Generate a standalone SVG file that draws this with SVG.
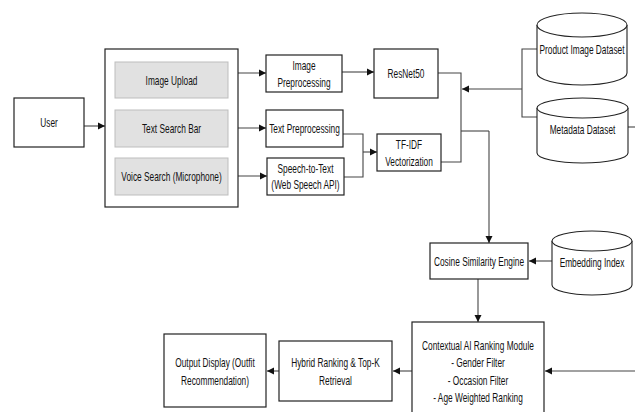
<svg xmlns="http://www.w3.org/2000/svg" width="635" height="412" viewBox="0 0 635 412">
<defs>
<marker id="ah" markerWidth="8" markerHeight="8" refX="7" refY="4" orient="auto" markerUnits="userSpaceOnUse">
<path d="M0,0.5 L7,4 L0,7.5 Z" fill="#111"/>
</marker>
<style>
.box{fill:#fff;stroke:#222;stroke-width:1.2}
.gbox{fill:#e1e1e1;stroke:#bdbdbd;stroke-width:1}
.cyl{fill:#fff;stroke:#222;stroke-width:1.1}
.t{font-family:"Liberation Sans",Arial,sans-serif;font-size:13px;fill:#111;text-anchor:middle;dominant-baseline:central}
.c{fill:none;stroke:#444;stroke-width:1.1}
.ca{fill:none;stroke:#444;stroke-width:1.1;marker-end:url(#ah)}
</style>
</defs>
<rect width="635" height="412" fill="#fff"/>
<g id="connectors">
<path class="ca" d="M84,126 H105"/>
<path class="ca" d="M228,73 H266"/>
<path class="ca" d="M228,128 H266"/>
<path class="ca" d="M228,176 H267"/>
<path class="ca" d="M342,72 H374"/>
<path class="c" d="M343,134 H363 V177 H344"/>
<path class="ca" d="M363,152 H377"/>
<path class="c" d="M438,73 H461 V162 H441"/>
<path class="c" d="M537,49 H522 V117 H537"/>
<path class="ca" d="M522,89 H462"/>
<path class="c" d="M461,131 H489"/>
<path class="ca" d="M489,131 V243"/>
<path class="c" d="M628,127 H635"/>
<path class="ca" d="M552,261 H529"/>
<path class="ca" d="M478,279 V322"/>
<path class="ca" d="M635,371 H545"/>
<path class="ca" d="M412,371 H393"/>
<path class="ca" d="M279,371 H267"/>
</g>
<g id="user"><rect class="box" x="14" y="98" width="70" height="49"/><text class="t" transform="translate(49,122) scale(0.64,1)">User</text></g>
<g id="input-panel"><rect class="box" x="105" y="49" width="133" height="158"/></g>
<g id="image-upload"><rect class="gbox" x="115" y="62" width="113" height="36"/><text class="t" transform="translate(171.5,80) scale(0.64,1)">Image Upload</text></g>
<g id="text-search"><rect class="gbox" x="115" y="110" width="113" height="37"/><text class="t" transform="translate(171.5,128) scale(0.64,1)">Text Search Bar</text></g>
<g id="voice-search"><rect class="gbox" x="115" y="158" width="113" height="37"/><text class="t" transform="translate(171.5,176) scale(0.64,1)">Voice Search (Microphone)</text></g>
<g id="image-preprocessing"><rect class="box" x="266" y="55" width="76" height="37"/><text class="t" transform="translate(304,65) scale(0.64,1)">Image</text><text class="t" transform="translate(304,82) scale(0.64,1)">Preprocessing</text></g>
<g id="resnet50"><rect class="box" x="374" y="49" width="64" height="49"/><text class="t" transform="translate(406,73) scale(0.64,1)">ResNet50</text></g>
<g id="text-preprocessing"><rect class="box" x="266" y="110" width="77" height="37"/><text class="t" transform="translate(304.5,128) scale(0.64,1)">Text Preprocessing</text></g>
<g id="speech-to-text"><rect class="box" x="267" y="158" width="77" height="37"/><text class="t" transform="translate(305.5,168) scale(0.64,1)">Speech-to-Text</text><text class="t" transform="translate(305.5,184) scale(0.64,1)">(Web Speech API)</text></g>
<g id="tfidf"><rect class="box" x="377" y="134" width="64" height="37"/><text class="t" transform="translate(409,144) scale(0.64,1)">TF-IDF</text><text class="t" transform="translate(409,161) scale(0.64,1)">Vectorization</text></g>
<g id="product-image-dataset"><path class="cyl" d="M537,25 A45,12 0 0 1 627,25 V73 A45,12 0 0 1 537,73 Z"/><path class="cyl" d="M537,25 A45,12 0 0 0 627,25"/><text class="t" transform="translate(582,49) scale(0.64,1)">Product Image Dataset</text></g>
<g id="metadata-dataset"><path class="cyl" d="M537,108 A45.5,10 0 0 1 628,108 V153 A45.5,10 0 0 1 537,153 Z"/><path class="cyl" d="M537,108 A45.5,10 0 0 0 628,108"/><text class="t" transform="translate(582.5,129) scale(0.64,1)">Metadata Dataset</text></g>
<g id="cosine-similarity"><rect class="box" x="430" y="243" width="98" height="36"/><text class="t" transform="translate(479,261) scale(0.64,1)">Cosine Similarity Engine</text></g>
<g id="embedding-index"><path class="cyl" d="M552,241 A40,10 0 0 1 632,241 V285 A40,10 0 0 1 552,285 Z"/><path class="cyl" d="M552,241 A40,10 0 0 0 632,241"/><text class="t" transform="translate(592,262) scale(0.64,1)">Embedding Index</text></g>
<g id="contextual-ranking"><rect class="box" x="412" y="322" width="132" height="100"/><text class="t" transform="translate(478,345) scale(0.64,1)">Contextual AI Ranking Module</text><text class="t" transform="translate(478,362) scale(0.64,1)">- Gender Filter</text><text class="t" transform="translate(478,380) scale(0.64,1)">- Occasion Filter</text><text class="t" transform="translate(478,397) scale(0.64,1)">- Age Weighted Ranking</text></g>
<g id="hybrid-ranking"><rect class="box" x="279" y="341" width="113" height="60"/><text class="t" transform="translate(335.5,362) scale(0.64,1)">Hybrid Ranking &amp; Top-K</text><text class="t" transform="translate(335.5,380) scale(0.64,1)">Retrieval</text></g>
<g id="output-display"><rect class="box" x="164" y="334" width="102" height="73"/><text class="t" transform="translate(215,362) scale(0.64,1)">Output Display (Outfit</text><text class="t" transform="translate(215,380) scale(0.64,1)">Recommendation)</text></g>
</svg>
